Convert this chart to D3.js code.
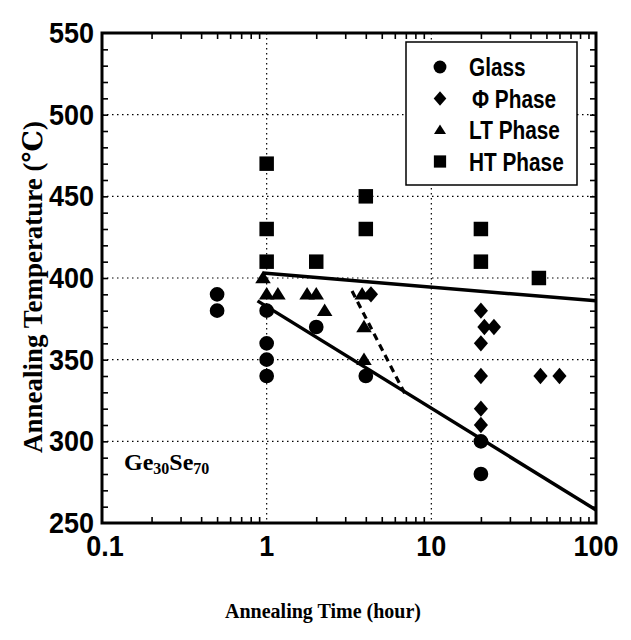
<!DOCTYPE html>
<html>
<head>
<meta charset="utf-8">
<script src="https://cdn.jsdelivr.net/npm/d3@7/dist/d3.min.js"></script>
<style>
  html, body { margin: 0; padding: 0; background: #fff; }
  svg { display: block; }
</style>
</head>
<body>
<svg id="chart" width="631" height="640"></svg>
<script>
// ---- data ----
const glassX = [0.5, 0.5, 1, 1, 1, 1, 2, 4, 20, 20];
const glassY = [390, 380, 380, 360, 350, 340, 370, 340, 300, 280];
const phiX = [4.3, 20, 21, 24, 20, 20, 20, 20, 46, 60];
const phiY = [390, 380, 370, 370, 360, 340, 320, 310, 340, 340];
const ltX = [0.95, 1, 1.17, 1.76, 2, 2.25, 3.8, 3.9, 3.9];
const ltY = [400, 390, 390, 390, 390, 380, 390, 370, 350];
const htX = [1, 1, 1, 2, 4, 4, 20, 20, 45];
const htY = [470, 430, 410, 410, 450, 430, 430, 410, 400];
const upperLine = [[0.95, 403], [100, 386]];
const lowerLine = [[0.88, 386], [100, 258]];
const dashedLine = [[3.3, 392], [7, 328]];
const xTickValues = [0.1, 1, 10, 100];
const xTickLabels = ["0.1", "1", "10", "100"];
const yTickValues = [250, 300, 350, 400, 450, 500, 550];
const legendLabels = ["Glass", "\u03A6 Phase", "LT Phase", "HT Phase"];

// ---- layout ----
const svg = d3.select("#chart");
const L = 102, R = 596, T = 33, B = 523;
const x = d3.scaleLog().domain([0.1, 100]).range([L, R]);
const y = d3.scaleLinear().domain([250, 550]).range([B, T]);

const sans = "'Liberation Sans', Arial, sans-serif";
const serif = "'Liberation Serif', 'DejaVu Serif', serif";

// custom symbols
const diamondSym = { draw(ctx, size) { const w = Math.sqrt(size) * 0.5, h = w * 1.15;
  ctx.moveTo(0, -h); ctx.lineTo(w, 0); ctx.lineTo(0, h); ctx.lineTo(-w, 0); ctx.closePath(); } };
const triSym = { draw(ctx, size) { const w = Math.sqrt(size) * 0.55, h = w * 1.6;
  ctx.moveTo(0, -h * 0.58); ctx.lineTo(w, h * 0.42); ctx.lineTo(-w, h * 0.42); ctx.closePath(); } };

// grid
const grid = svg.append("g").attr("stroke", "#000").attr("stroke-width", 1.2)
  .attr("stroke-dasharray", "1.5,3.5");
[1, 10].forEach(v => grid.append("line").attr("x1", x(v)).attr("x2", x(v)).attr("y1", T).attr("y2", B));
[300, 350, 400, 450, 500].forEach(v => grid.append("line").attr("x1", L).attr("x2", R).attr("y1", y(v)).attr("y2", y(v)));

// axes (inward ticks)
const minorX = [];
[0.1, 1, 10].forEach(d => { for (let k = 2; k <= 9; k++) minorX.push(d * k); });
const minorY = d3.range(260, 550, 10);

const axB = svg.append("g").attr("transform", `translate(0,${B})`)
  .call(d3.axisBottom(x).tickValues(minorX).tickSize(-6).tickFormat(""));
const axT = svg.append("g").attr("transform", `translate(0,${T})`)
  .call(d3.axisTop(x).tickValues(minorX).tickSize(-6).tickFormat(""));
const axL = svg.append("g").attr("transform", `translate(${L},0)`)
  .call(d3.axisLeft(y).tickValues(minorY).tickSize(-6).tickFormat(""));
const axR = svg.append("g").attr("transform", `translate(${R},0)`)
  .call(d3.axisRight(y).tickValues(minorY).tickSize(-6).tickFormat(""));
[axB, axT, axL, axR].forEach(a => {
  a.select(".domain").remove();
  a.selectAll(".tick line").attr("stroke", "#000").attr("stroke-width", 1.6);
});

// frame
svg.append("rect").attr("x", L).attr("y", T).attr("width", R - L).attr("height", B - T)
  .attr("fill", "none").attr("stroke", "#000").attr("stroke-width", 3);

// tick labels (condensed bold)
svg.append("g").selectAll("text").data(xTickValues).join("text")
  .attr("transform", d => `translate(${x(d) + (d === 0.1 ? 3 : 0)},${B + 33}) scale(0.9,1)`)
  .attr("text-anchor", "middle")
  .attr("font-family", sans).attr("font-weight", "bold").attr("font-size", 30)
  .text((d, i) => xTickLabels[i]);
svg.append("g").selectAll("text").data(yTickValues).join("text")
  .attr("transform", d => `translate(${L - 8},${y(d) + 10}) scale(0.9,1)`)
  .attr("text-anchor", "end")
  .attr("font-family", sans).attr("font-weight", "bold").attr("font-size", 30)
  .text(d => d);

// axis titles
svg.append("text").attr("x", 323).attr("y", 618).attr("text-anchor", "middle")
  .attr("font-family", serif).attr("font-weight", "bold").attr("font-size", 20)
  .text("Annealing Time (hour)");
svg.append("text").attr("transform", `translate(42,287) rotate(-90)`)
  .attr("text-anchor", "middle")
  .attr("font-family", serif).attr("font-weight", "bold").attr("font-size", 27)
  .text("Annealing Temperature (\u2103)");

// annotation
const ann = svg.append("text").attr("x", 124).attr("y", 470)
  .attr("font-family", serif).attr("font-weight", "bold").attr("font-size", 24);
ann.append("tspan").text("Ge");
ann.append("tspan").attr("font-size", 16).attr("dy", 4).text("30");
ann.append("tspan").attr("dy", -4).text("Se");
ann.append("tspan").attr("font-size", 16).attr("dy", 4).text("70");

// fitted lines
const line = d3.line().x(d => x(d[0])).y(d => y(d[1]));
svg.append("path").attr("d", line(upperLine)).attr("stroke", "#000").attr("stroke-width", 3.5).attr("fill", "none");
svg.append("path").attr("d", line(lowerLine)).attr("stroke", "#000").attr("stroke-width", 3.5).attr("fill", "none");
svg.append("path").attr("d", line(dashedLine)).attr("stroke", "#000").attr("stroke-width", 3.2)
  .attr("stroke-dasharray", "7,5").attr("fill", "none");

// symbols
const sym = {
  circle: d3.symbol().type(d3.symbolCircle).size(170),
  diamond: d3.symbol().type(diamondSym).size(200),
  triangle: d3.symbol().type(triSym).size(200),
  square: d3.symbol().type(d3.symbolSquare).size(210)
};
function drawSeries(xs, ys, s) {
  svg.append("g").selectAll("path").data(xs.map((v, i) => [v, ys[i]])).join("path")
    .attr("d", s).attr("fill", "#000")
    .attr("transform", d => `translate(${x(d[0])},${y(d[1])})`);
}
drawSeries(glassX, glassY, sym.circle());
drawSeries(phiX, phiY, sym.diamond());
drawSeries(ltX, ltY, sym.triangle());
drawSeries(htX, htY, sym.square());

// legend
const lg = svg.append("g");
lg.append("rect").attr("x", 406).attr("y", 42).attr("width", 171).attr("height", 143)
  .attr("fill", "#fff").attr("stroke", "#000").attr("stroke-width", 1.5);
const legSyms = [
  d3.symbol().type(d3.symbolCircle).size(130),
  d3.symbol().type(diamondSym).size(160),
  d3.symbol().type(triSym).size(120),
  d3.symbol().type(d3.symbolSquare).size(150)
];
legendLabels.forEach((lab, i) => {
  const cy = 67 + i * 31.5;
  lg.append("path").attr("d", legSyms[i]()).attr("fill", "#000")
    .attr("transform", `translate(440,${cy})`);
  lg.append("text").attr("transform", `translate(${i === 1 ? 472 : 469},${cy + 9}) scale(0.8,1)`)
    .attr("font-family", sans).attr("font-weight", "bold").attr("font-size", 26)
    .text(lab);
});
</script>
</body>
</html>
